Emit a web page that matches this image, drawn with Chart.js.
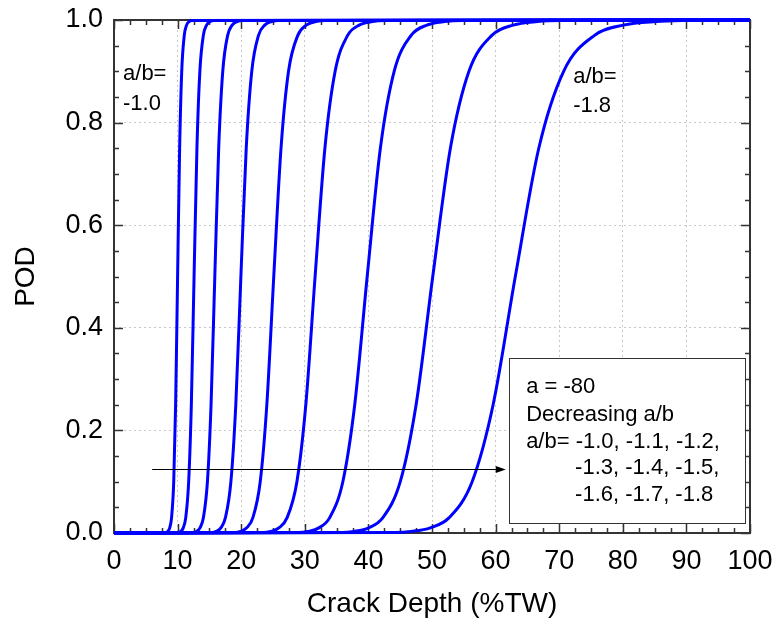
<!DOCTYPE html>
<html>
<head>
<meta charset="utf-8">
<script src="https://cdn.jsdelivr.net/npm/chart.js@4"></script>
<style>
  html, body { margin: 0; padding: 0; background: #fff; }
  #wrap { width: 777px; height: 624px; }
</style>
</head>
<body>
<div id="wrap"><canvas id="podChart" width="777" height="624"></canvas></div>
<script>
// POD levels shared by all curves, and the crack depth (%TW) read at each level
const podLevels = [0, 0.001, 0.003, 0.01, 0.03, 0.1, 0.25, 0.5, 0.75, 0.9, 0.97, 0.99, 0.997, 0.999, 1];
const ratioLabels = ['-1.0', '-1.1', '-1.2', '-1.3', '-1.4', '-1.5', '-1.6', '-1.7', '-1.8'];
const depth10 = [0, 8.20, 8.46, 8.76, 9.05, 9.39, 9.69, 10.00, 10.32, 10.65, 11.05, 11.41, 11.82, 12.20, 100];
const depth11 = [0, 10.12, 10.48, 10.89, 11.28, 11.74, 12.16, 12.59, 13.04, 13.50, 14.05, 14.56, 15.13, 15.67, 100];
const depth12 = [0, 12.49, 12.97, 13.52, 14.06, 14.69, 15.26, 15.85, 16.46, 17.10, 17.87, 18.58, 19.37, 20.12, 100];
const depth13 = [0, 15.41, 16.06, 16.80, 17.52, 18.38, 19.15, 19.95, 20.79, 21.66, 22.72, 23.70, 24.79, 25.84, 100];
const depth14 = [0, 19.02, 19.88, 20.87, 21.84, 22.99, 24.03, 25.12, 26.26, 27.44, 28.90, 30.23, 31.74, 33.18, 100];
const depth15 = [0, 23.47, 24.61, 25.93, 27.22, 28.76, 30.16, 31.62, 33.16, 34.77, 36.74, 38.56, 40.63, 42.61, 100];
const depth16 = [0, 28.96, 30.47, 32.22, 33.92, 35.98, 37.85, 39.81, 41.88, 44.05, 46.72, 49.19, 52.01, 54.72, 100];
const depth17 = [0, 35.75, 37.72, 40.03, 42.28, 45.01, 47.50, 50.12, 52.89, 55.81, 59.41, 62.75, 66.59, 70.27, 100];
const depth18 = [0, 44.12, 46.71, 49.73, 52.70, 56.31, 59.61, 63.10, 66.79, 70.70, 75.55, 80.06, 85.24, 90.24, 100];

const curves = [depth10, depth11, depth12, depth13, depth14, depth15, depth16, depth17, depth18];
const FONT = "'Liberation Sans', Arial, sans-serif";

const datasets = curves.map((xs, i) => ({
  label: 'a/b=' + ratioLabels[i],
  data: xs.map((x, j) => ({ x, y: podLevels[j] })),
  borderColor: '#0000ff',
  borderWidth: 3,
  pointRadius: 0,
  fill: false,
  cubicInterpolationMode: 'monotone',
  clip: false
}));

// no extra room for tick labels: the plot box is set by layout padding
function fixBox(width, height) {
  return s => {
    if (width) s.width = width;
    if (height) s.height = height;
    s.paddingLeft = s.paddingRight = s.paddingTop = s.paddingBottom = 0;
  };
}

// ----------------------
// Frame, inward ticks, axis titles
// ----------------------
const framePlugin = {
  id: 'frame',
  beforeDatasetsDraw(chart) {
    const { ctx, chartArea: a, scales: { x, y } } = chart;
    ctx.save();
    ctx.strokeStyle = '#333';
    ctx.lineWidth = 2;
    ctx.strokeRect(a.left, a.top, a.right - a.left, a.bottom - a.top);

    ctx.lineWidth = 1.5;
    ctx.beginPath();
    for (let i = 0; i <= 40; i++) {
      const len = i % 4 === 0 ? 9 : 5;
      const px = Math.round(x.getPixelForValue(i * 2.5)) + 0.5;
      ctx.moveTo(px, a.bottom); ctx.lineTo(px, a.bottom - len);
      ctx.moveTo(px, a.top); ctx.lineTo(px, a.top + len);
    }
    for (let i = 0; i <= 20; i++) {
      const len = i % 4 === 0 ? 9 : 5;
      const py = Math.round(y.getPixelForValue(i * 0.05)) + 0.5;
      ctx.moveTo(a.left, py); ctx.lineTo(a.left + len, py);
      ctx.moveTo(a.right, py); ctx.lineTo(a.right - len, py);
    }
    ctx.stroke();
    ctx.restore();
  },
  afterDraw(chart) {
    const { ctx, chartArea: a } = chart;
    ctx.save();
    ctx.fillStyle = '#000';
    ctx.font = '28px ' + FONT;
    ctx.textAlign = 'center';
    ctx.textBaseline = 'middle';
    ctx.fillText('Crack Depth (%TW)', (a.left + a.right) / 2, 604);
    ctx.translate(26, (a.top + a.bottom) / 2);
    ctx.rotate(-Math.PI / 2);
    ctx.fillText('POD', 0, 0);
    ctx.restore();
  }
};

// ----------------------
// Labels, note box and arrow
// ----------------------
const notesPlugin = {
  id: 'notes',
  afterDatasetsDraw(chart) {
    const { ctx, scales: { x, y } } = chart;
    const px = v => x.getPixelForValue(v);
    const py = v => y.getPixelForValue(v);
    ctx.save();
    ctx.fillStyle = '#000';
    ctx.font = '22px ' + FONT;
    ctx.textAlign = 'left';
    ctx.textBaseline = 'middle';
    ctx.fillText('a/b=', px(1.42), py(0.895));
    ctx.fillText('-1.0', px(1.42), py(0.836));
    ctx.fillText('a/b=', px(72.2), py(0.889));
    ctx.fillText('-1.8', px(72.2), py(0.832));

    // arrow
    const ay = Math.round(py(0.125)) + 0.5;
    const ax0 = px(6), ax1 = px(61.6);
    ctx.strokeStyle = '#000';
    ctx.lineWidth = 1;
    ctx.beginPath();
    ctx.moveTo(ax0, ay); ctx.lineTo(ax1 - 8, ay);
    ctx.stroke();
    ctx.beginPath();
    ctx.moveTo(ax1, ay); ctx.lineTo(ax1 - 10, ay - 3.5); ctx.lineTo(ax1 - 10, ay + 3.5);
    ctx.closePath();
    ctx.fill();

    // note box
    const bx0 = px(62.1), bx1 = px(99.2), by0 = py(0.341), by1 = py(0.0195);
    ctx.fillStyle = '#fff';
    ctx.fillRect(bx0, by0, bx1 - bx0, by1 - by0);
    ctx.strokeStyle = '#333';
    ctx.strokeRect(Math.round(bx0) + 0.5, Math.round(by0) + 0.5, Math.round(bx1 - bx0), Math.round(by1 - by0));

    ctx.fillStyle = '#000';
    ctx.fillText('a = -80', px(64.8), py(0.285));
    ctx.fillText('Decreasing a/b', px(64.8), py(0.230));
    ctx.fillText('a/b= -1.0, -1.1, -1.2,', px(64.8), py(0.177));
    ctx.fillText('-1.3, -1.4, -1.5,', px(72.5), py(0.127));
    ctx.fillText('-1.6, -1.7, -1.8', px(72.5), py(0.074));
    ctx.restore();
  }
};

new Chart(document.getElementById('podChart').getContext('2d'), {
  type: 'line',
  data: { datasets },
  options: {
    responsive: false,
    animation: false,
    devicePixelRatio: 1,
    layout: { padding: { left: 0, top: 20, right: 27, bottom: 0 } },
    plugins: { legend: { display: false }, tooltip: { enabled: false } },
    scales: {
      x: {
        type: 'linear',
        min: 0,
        max: 100,
        afterFit: fixBox(0, 91),
        ticks: { stepSize: 10, padding: 12, maxRotation: 0, color: '#000', font: { family: FONT, size: 27 } },
        grid: { drawTicks: false, color: '#c8c8c8', lineWidth: 1 },
        border: { display: false, dash: [2, 3] }
      },
      y: {
        type: 'linear',
        min: 0,
        max: 1,
        afterFit: fixBox(114, 0),
        ticks: {
          stepSize: 0.2, padding: 11, color: '#000',
          font: { family: FONT, size: 27 },
          callback: v => v.toFixed(1)
        },
        grid: { drawTicks: false, color: '#c8c8c8', lineWidth: 1 },
        border: { display: false, dash: [2, 3] }
      }
    }
  },
  plugins: [framePlugin, notesPlugin]
});
</script>
</body>
</html>
